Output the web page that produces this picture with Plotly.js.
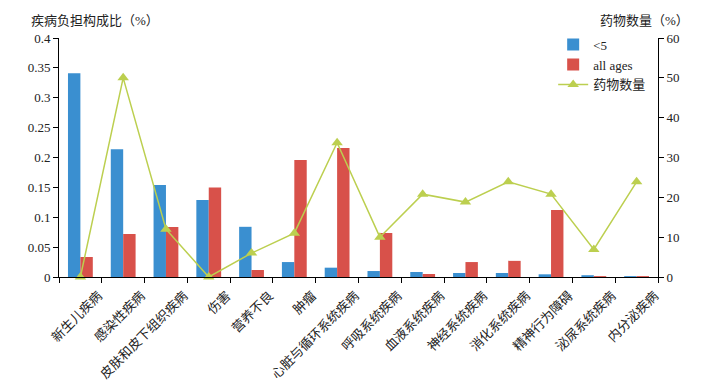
<!DOCTYPE html>
<html>
<head>
<meta charset="utf-8">
<script src="https://cdn.plot.ly/plotly-3.0.1.min.js"></script>
<style>html,body{margin:0;padding:0;background:#fff;}#chart{width:713px;height:381px;}</style>
</head>
<body>
<div id="chart"></div>
<script>
const categories = ["新生儿疾病","感染性疾病","皮肤和皮下组织疾病","伤害","营养不良","肿瘤","心脏与循环系统疾病","呼吸系统疾病","血液系统疾病","神经系统疾病","消化系统疾病","精神行为障碍","泌尿系统疾病","内分泌疾病"];
const under5 = [0.341,0.214,0.154,0.129,0.084,0.025,0.0156,0.010,0.0084,0.0067,0.0067,0.0045,0.003,0.0015];
const allAges = [0.0335,0.072,0.0837,0.150,0.0117,0.196,0.216,0.0736,0.005,0.025,0.027,0.112,0.0015,0.0015];
const drugCount = [0,50,12,0,6,11,33.7,10,20.8,18.8,23.9,20.8,6.9,23.9];
const leftTicks = [0,0.05,0.1,0.15,0.2,0.25,0.3,0.35,0.4];
const leftTickText = ["0","0.05","0.1","0.15","0.2","0.25","0.3","0.35","0.4"];
const rightTicks = [0,10,20,30,40,50,60];

const FONT = '"Liberation Serif", "Noto Sans CJK SC", serif';
const traces = [
  {type:'bar', name:'<5', x:categories, y:under5, marker:{color:'#3a8fd0'}, legendgroup:'a'},
  {type:'bar', name:'all ages', x:categories, y:allAges, marker:{color:'#d8514a'}, legendgroup:'b'},
  {type:'scatter', mode:'lines+markers', name:'药物数量', x:categories, y:drugCount, yaxis:'y2',
   line:{color:'#bccf4f', width:1.5}, marker:{symbol:'triangle-up', size:10, color:'#bccf4f'},
   cliponaxis:false, legendgroup:'c'}
];
const layout = {
  width:713, height:381,
  margin:{l:59, r:55, t:38, b:104, autoexpand:false},
  paper_bgcolor:'#fff', plot_bgcolor:'#fff',
  font:{family:FONT, size:13, color:'#222'},
  barmode:'group', bargap:0.42, bargroupgap:0,
  showlegend:true,
  legend:{x:0.825, y:1.035, xanchor:'left', yanchor:'top', bgcolor:'rgba(0,0,0,0)', font:{size:13, family:FONT}, tracegroupgap:6, traceorder:'normal'},
  xaxis:{type:'category', range:[-0.5,13.5], automargin:false, showline:true, linecolor:'#000', linewidth:1, ticks:'outside', tickson:'boundaries', ticklen:5, tickcolor:'#000', tickangle:-45, ticklabelshift:18, ticklabelstandoff:5, showgrid:false, zeroline:false, tickfont:{size:13}},
  yaxis:{range:[0,0.4], automargin:false, tickvals:leftTicks, ticktext:leftTickText, showline:true, linecolor:'#000', linewidth:1, ticks:'outside', ticklen:5, tickcolor:'#000', showgrid:false, zeroline:false, tickfont:{size:13}},
  yaxis2:{overlaying:'y', side:'right', automargin:false, range:[0,60], tickvals:rightTicks, showline:true, linecolor:'#000', linewidth:1, ticks:'outside', ticklen:5, tickcolor:'#000', showgrid:false, zeroline:false, tickfont:{size:13}},
  annotations:[
    {xref:'paper', yref:'paper', x:-0.05, y:1.075, xanchor:'left', yanchor:'middle', text:'疾病负担构成比（%）', showarrow:false, font:{size:13}},
    {xref:'paper', yref:'paper', x:0.9, y:1.075, xanchor:'left', yanchor:'middle', text:'药物数量（%）', showarrow:false, font:{size:13}}
  ]
};
Plotly.newPlot('chart', traces, layout, {displayModeBar:false, staticPlot:true});
</script>
</body>
</html>
